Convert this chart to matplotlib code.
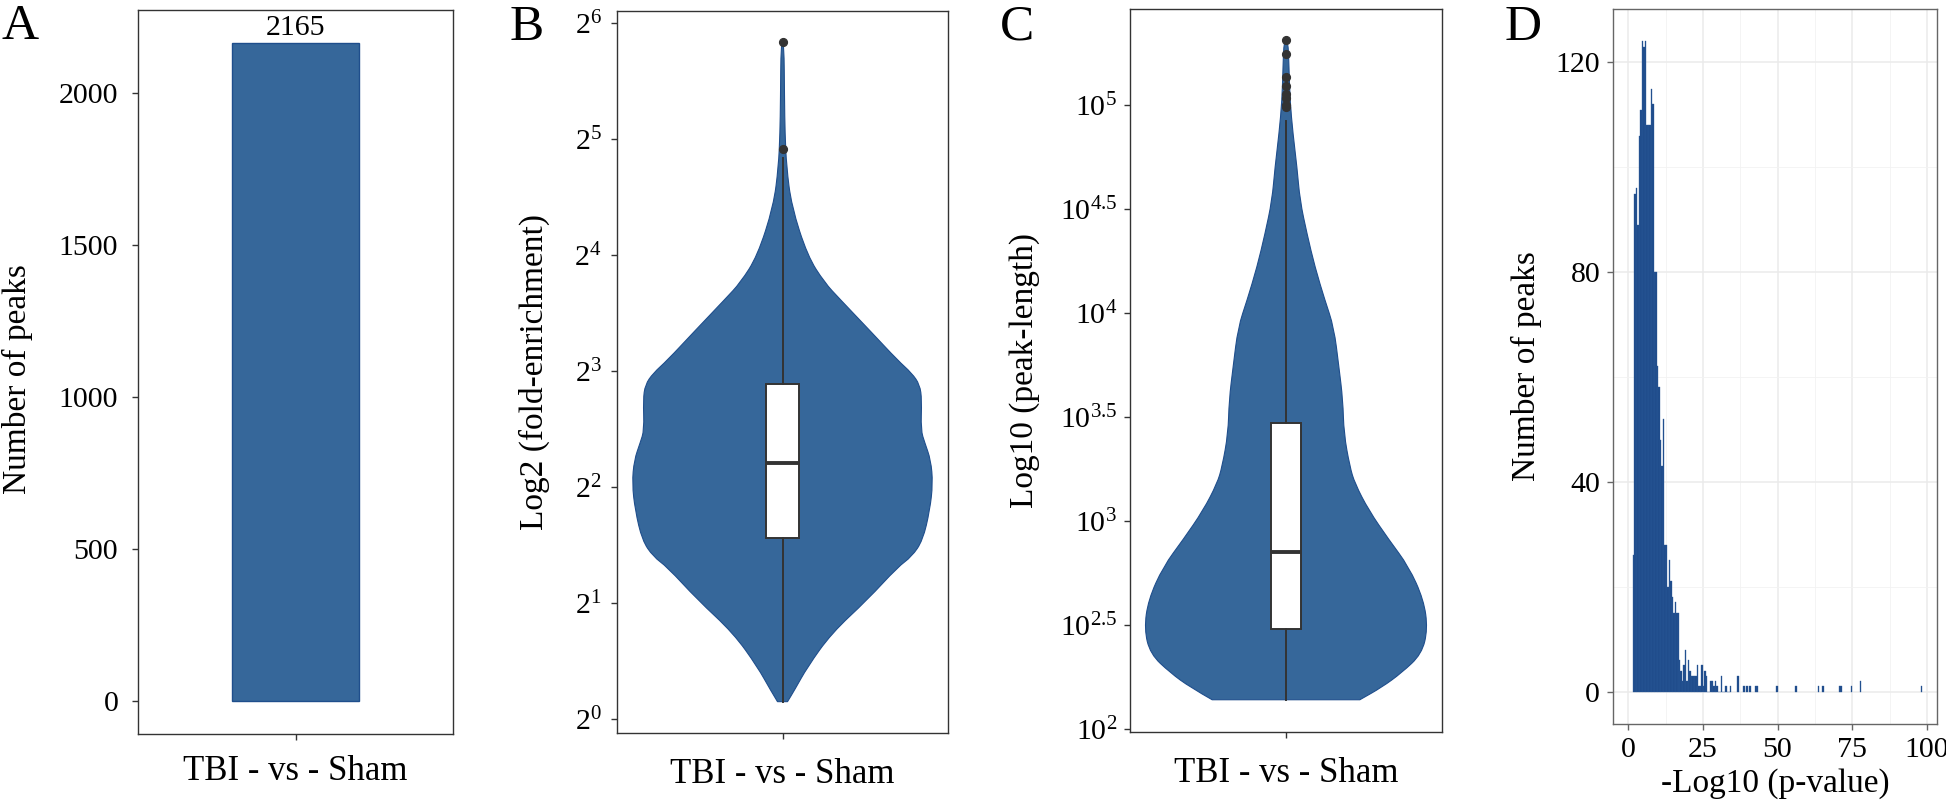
import matplotlib
matplotlib.use("Agg")
import matplotlib.pyplot as plt
import numpy as np
from matplotlib.path import Path
from matplotlib.patches import PathPatch
from matplotlib.ticker import MultipleLocator

plt.rcParams["font.family"] = ["Liberation Serif", "DejaVu Serif"]
plt.rcParams["mathtext.fontset"] = "custom"
plt.rcParams["mathtext.rm"] = "Liberation Serif"
plt.rcParams["mathtext.it"] = "Liberation Serif:italic"

# ---- data ----
group = ["TBI - vs - Sham"]
peak_count = [2165]

# B: fold-enrichment violin outline (log2 level, relative half width)
fe_levels = [0.15, 0.25, 0.45, 0.74, 1.03, 1.31, 1.40, 1.54, 1.80, 2.03, 2.23, 2.38,
             2.49, 2.75, 2.88, 2.98, 3.09, 3.33, 3.62, 3.76, 3.99, 4.42, 4.76, 5.05, 5.34, 5.83]
fe_density = [5, 12, 25, 49, 85, 115, 129, 140, 147, 150, 148, 142,
              138, 139, 137, 129, 115, 89, 57, 42, 25, 9, 4, 2.5, 2, 1.5]
fe_q1, fe_med, fe_q3 = 1.56, 2.21, 2.89
fe_whislo, fe_whishi = 0.15, 4.83
fe_outliers = [4.91, 5.83]

# C: peak-length violin outline (log10 level, relative half width)
pl_levels = [2.14, 2.20, 2.27, 2.36, 2.48, 2.62, 2.78, 2.91, 3.05, 3.18, 3.26, 3.42,
             3.58, 3.74, 3.93, 4.06, 4.22, 4.38, 4.54, 4.70, 4.86, 5.02, 5.18, 5.31]
pl_density = [74, 96, 116, 136, 142, 138, 123, 103, 83, 69, 64, 58,
              57, 53, 48, 39, 29, 21, 14, 11, 7, 4, 3, 2]
pl_q1, pl_med, pl_q3 = 2.48, 2.85, 3.47
pl_whislo, pl_whishi = 2.14, 4.92
pl_outliers = [4.99, 5.00, 5.03, 5.05, 5.09, 5.135, 5.245, 5.31]

# D: histogram of -log10(p-value)
pval_bin_start = 1.5
pval_bin_width = 0.5
pval_counts = [26, 95, 96, 89, 106, 111, 124, 123, 124, 108, 108, 108, 115, 112, 80, 80,
               62, 58, 48, 43, 52, 28, 28, 20, 25, 21, 18, 15, 17, 15, 15, 6, 4, 2, 5, 8,
               2, 6, 4, 3, 3, 3, 3, 5, 1, 1, 5, 1, 4, 3, 0, 0, 2, 2, 1, 2, 1, 0, 0, 3,
               0, 0, 1, 0, 0, 1]
pval_tail_left = [36.5, 38.5, 39.5, 40.5, 42.5, 43.0, 49.5, 56.0, 63.5, 65.0,
                  70.5, 71.0, 74.5, 77.5, 98.0]
pval_tail_counts = [3, 1, 1, 1, 1, 1, 1, 1, 1, 1, 1, 1, 1, 2, 1]

VIOLIN = "#36679A"
OUTLINE = "#1F4E8C"
HIST = "#1E4B8A"
DARK = "#333333"

W, H = 1946, 808
fig = plt.figure(figsize=(W / 100, H / 100), dpi=100)


def rect(left, right, top, bottom):
    return [left / W, 1 - bottom / H, (right - left) / W, (bottom - top) / H]


TICK = 21.5
LABEL = 24


def style_axes(ax, spine_color=DARK):
    for s in ax.spines.values():
        s.set_color(spine_color)
        s.set_linewidth(1.0)
    ax.tick_params(axis="both", length=4.2, width=1.0, color=spine_color, labelsize=TICK)
    ax.tick_params(axis="y", pad=7)


# ---- A ----
axA = fig.add_axes(rect(138, 453, 10, 734))
axA.bar([1], peak_count, width=0.484, color=VIOLIN, edgecolor=OUTLINE, linewidth=1.0)
axA.annotate(str(peak_count[0]), (1, peak_count[0]), xytext=(0, 1), textcoords="offset points",
             ha="center", va="bottom", fontsize=TICK)
axA.set_xlim(0.4, 1.6)
axA.set_ylim(-108, 2273)
axA.set_yticks([0, 500, 1000, 1500, 2000])
style_axes(axA)
axA.tick_params(axis="y", pad=10)
axA.set_xticks([1], group)
axA.tick_params(axis="x", labelsize=25, pad=11)
axA.set_ylabel("Number of peaks", fontsize=LABEL)
axA.yaxis.set_label_coords((33 - 138) / 315, 0.49)


def smooth_outline(points):
    # quadratic bezier through midpoints, so the outline is drawn as a curve
    verts = [points[0]]
    codes = [Path.MOVETO]
    for i in range(1, len(points) - 1):
        mid = ((points[i][0] + points[i + 1][0]) / 2, (points[i][1] + points[i + 1][1]) / 2)
        verts += [points[i], mid]
        codes += [Path.CURVE3, Path.CURVE3]
    verts += [points[-1], points[0]]
    codes += [Path.LINETO, Path.CLOSEPOLY]
    return Path(verts, codes)


def draw_violin(ax, levels, density, q1, med, q3, whislo, whishi, fliers):
    y = np.asarray(levels)
    w = np.asarray(density, dtype=float) / max(density) * 0.545
    pts = list(zip(1 - w, y)) + list(zip((1 + w)[::-1], y[::-1]))
    ax.add_patch(PathPatch(smooth_outline(pts), facecolor=VIOLIN, edgecolor=OUTLINE,
                           linewidth=0.8, zorder=1))
    stats = [dict(med=med, q1=q1, q3=q3, whislo=whislo, whishi=whishi, fliers=fliers)]
    ax.bxp(stats, positions=[1], widths=0.118, patch_artist=True, showcaps=False,
           manage_ticks=False, zorder=2,
           boxprops=dict(facecolor="white", edgecolor=DARK, linewidth=1.4),
           medianprops=dict(color=DARK, linewidth=2.8),
           whiskerprops=dict(color=DARK, linewidth=1.4),
           flierprops=dict(marker="o", markerfacecolor=DARK, markeredgecolor=DARK,
                           markersize=5.6))
    ax.set_xlim(0.4, 1.6)
    ax.set_xticks([1], group)


# ---- B ----
axB = fig.add_axes(rect(617, 948, 11, 733))
draw_violin(axB, fe_levels, fe_density, fe_q1, fe_med, fe_q3, fe_whislo, fe_whishi, fe_outliers)
axB.set_ylim(-0.12, 6.10)
b_ticks = list(range(0, 7))
axB.set_yticks(b_ticks, [rf"$\mathrm{{2^{{{k}}}}}$" for k in b_ticks])
style_axes(axB)
axB.tick_params(axis="x", labelsize=25, pad=14)
axB.set_ylabel("Log2 (fold-enrichment)", fontsize=LABEL)
axB.yaxis.set_label_coords((550 - 617) / 331, 0.5)

# ---- C ----
axC = fig.add_axes(rect(1130, 1442, 9, 732))
draw_violin(axC, pl_levels, pl_density, pl_q1, pl_med, pl_q3, pl_whislo, pl_whishi, pl_outliers)
axC.set_ylim(1.985, 5.46)
c_ticks = [2, 2.5, 3, 3.5, 4, 4.5, 5]
axC.set_yticks(c_ticks, [rf"$\mathrm{{10^{{{t:g}}}}}$" for t in c_ticks])
style_axes(axC)
axC.tick_params(axis="y", pad=5)
axC.tick_params(axis="x", labelsize=25, pad=14)
axC.set_ylabel("Log10 (peak-length)", fontsize=LABEL)
axC.yaxis.set_label_coords((1040 - 1130) / 312, 0.5)

# ---- D ----
axD = fig.add_axes(rect(1613, 1937, 9, 724))
edges = pval_bin_start + pval_bin_width * np.arange(len(pval_counts))
axD.bar(edges, pval_counts, width=pval_bin_width, align="edge", color=HIST,
        edgecolor="#2C5A99", linewidth=0.25, zorder=2)
axD.bar(pval_tail_left, pval_tail_counts, width=pval_bin_width, align="edge", color=HIST,
        edgecolor="#2C5A99", linewidth=0.25, zorder=2)
axD.set_xlim(-5.1, 103.4)
axD.set_ylim(-6.2, 130.2)
axD.set_xticks([0, 25, 50, 75, 100])
axD.set_yticks([0, 40, 80, 120])
axD.xaxis.set_minor_locator(MultipleLocator(12.5))
axD.yaxis.set_minor_locator(MultipleLocator(20))
axD.set_axisbelow(True)
axD.grid(which="major", color="#EBEBEB", linewidth=1.1)
axD.grid(which="minor", color="#F2F2F2", linewidth=0.6)
style_axes(axD, spine_color="#666666")
axD.tick_params(which="minor", length=0)
axD.tick_params(axis="x", pad=5)
axD.tick_params(axis="y", pad=5)
axD.set_xlabel("-Log10 (p-value)", fontsize=LABEL, labelpad=4)
axD.set_ylabel("Number of peaks", fontsize=LABEL)
axD.yaxis.set_label_coords((1542 - 1613) / 324, 0.5)

# panel letters
for letter, px, py in [("A", 2, 39), ("B", 510, 40), ("C", 1000, 40), ("D", 1505, 40)]:
    fig.text(px / W, 1 - py / H, letter, fontsize=37, ha="left", va="baseline")

fig.savefig("out.png", dpi=100)
